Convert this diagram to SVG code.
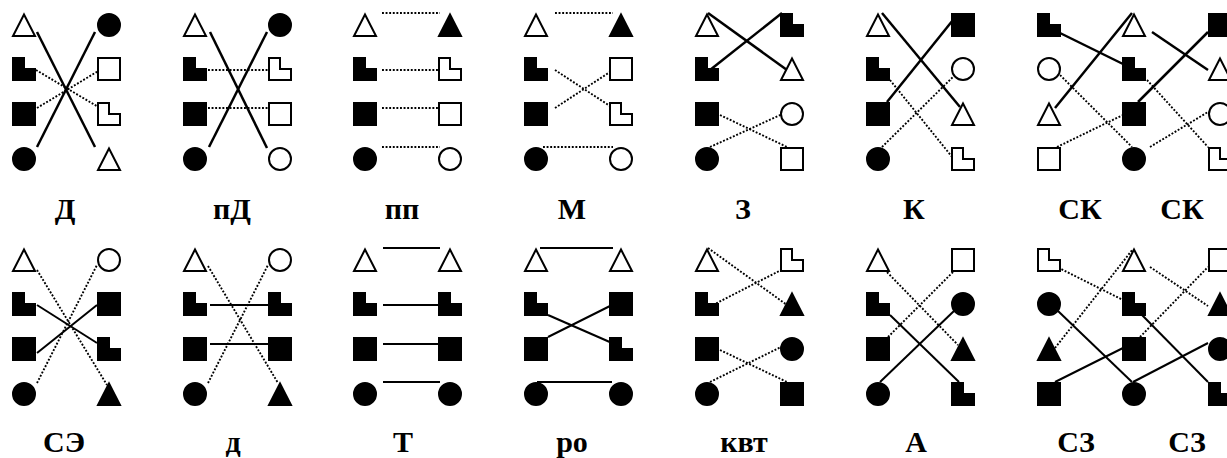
<svg xmlns="http://www.w3.org/2000/svg" xmlns:xlink="http://www.w3.org/1999/xlink" width="1227" height="458" viewBox="0 0 1227 458">
<style>
.w{fill:#fff;stroke:#000;stroke-width:2}
.b{fill:#000;stroke:#000;stroke-width:2}
.s{stroke:#000;stroke-width:2.5;fill:none}
.s2{stroke:#000;stroke-width:2;fill:none}
.d{stroke:#000;stroke-width:1.9;stroke-dasharray:1.9 1.7;fill:none}
.lb{font-family:"Liberation Serif","Times New Roman",serif;font-weight:bold;font-size:30px;text-anchor:middle;fill:#000}
</style>
<defs>
<polygon id="T" points="12,1.5 23,23 1,23"/>
<rect id="Q" x="1" y="1" width="22" height="22"/>
<path id="L" d="M1,1H12V12H23V23H1Z"/>
<circle id="C" cx="12" cy="12" r="11"/>
</defs>
<rect width="1227" height="458" fill="#fff"/>
<g id="connectors">
<line class="s" x1="37" y1="32" x2="95" y2="147"/>
<line class="s" x1="37" y1="147" x2="95" y2="32"/>
<line class="d" x1="36" y1="70" x2="100" y2="108"/>
<line class="d" x1="37" y1="108" x2="100" y2="70"/>
<line class="s" x1="210" y1="32" x2="267" y2="148"/>
<line class="s" x1="209" y1="147" x2="267" y2="32"/>
<line class="d" x1="208" y1="70" x2="268" y2="70"/>
<line class="d" x1="208" y1="108" x2="268" y2="108"/>
<line class="d" x1="382" y1="13" x2="440" y2="13"/>
<line class="d" x1="382" y1="70" x2="440" y2="70"/>
<line class="d" x1="382" y1="108" x2="440" y2="108"/>
<line class="d" x1="382" y1="147" x2="440" y2="147"/>
<line class="d" x1="555" y1="13" x2="613" y2="13"/>
<line class="d" x1="555" y1="70" x2="613" y2="108"/>
<line class="d" x1="555" y1="108" x2="613" y2="70"/>
<line class="d" x1="543" y1="147" x2="613" y2="147"/>
<line class="s" x1="708" y1="13" x2="787" y2="70"/>
<line class="s" x1="782" y1="13" x2="710" y2="70"/>
<line class="d" x1="720" y1="115" x2="787" y2="147"/>
<line class="d" x1="710" y1="147" x2="787" y2="112"/>
<line class="s" x1="882" y1="13" x2="960" y2="107"/>
<line class="s" x1="887" y1="102" x2="953" y2="20"/>
<line class="d" x1="890" y1="80" x2="957" y2="163"/>
<line class="d" x1="882" y1="147" x2="960" y2="70"/>
<line class="s" x1="1060" y1="33" x2="1125" y2="65"/>
<line class="s" x1="1055" y1="108" x2="1132" y2="13"/>
<line class="s" x1="1152" y1="32" x2="1208" y2="70"/>
<line class="s" x1="1138" y1="102" x2="1208" y2="32"/>
<line class="d" x1="1055" y1="70" x2="1132" y2="147"/>
<line class="d" x1="1057" y1="147" x2="1123" y2="115"/>
<line class="d" x1="1147" y1="80" x2="1208" y2="147"/>
<line class="d" x1="1150" y1="147" x2="1208" y2="112"/>
<line class="d" x1="37" y1="270" x2="107" y2="385"/>
<line class="d" x1="37" y1="383" x2="97" y2="265"/>
<line class="s2" x1="37" y1="305" x2="97" y2="343"/>
<line class="s2" x1="37" y1="353" x2="97" y2="305"/>
<line class="d" x1="208" y1="266" x2="278" y2="383"/>
<line class="d" x1="208" y1="383" x2="268" y2="265"/>
<line class="s2" x1="210" y1="305" x2="268" y2="305"/>
<line class="s2" x1="210" y1="344" x2="268" y2="344"/>
<line class="s2" x1="383" y1="248" x2="440" y2="248"/>
<line class="s2" x1="383" y1="305" x2="440" y2="305"/>
<line class="s2" x1="383" y1="344" x2="440" y2="344"/>
<line class="s2" x1="383" y1="382" x2="440" y2="382"/>
<line class="s2" x1="540" y1="248" x2="613" y2="248"/>
<line class="s2" x1="548" y1="315" x2="612" y2="343"/>
<line class="s2" x1="548" y1="337" x2="612" y2="305"/>
<line class="s2" x1="537" y1="382" x2="612" y2="382"/>
<line class="d" x1="708" y1="248" x2="787" y2="305"/>
<line class="d" x1="713" y1="305" x2="787" y2="267"/>
<line class="d" x1="720" y1="350" x2="787" y2="382"/>
<line class="d" x1="710" y1="382" x2="783" y2="346"/>
<line class="d" x1="882" y1="267" x2="958" y2="345"/>
<line class="d" x1="888" y1="337" x2="958" y2="267"/>
<line class="s2" x1="890" y1="315" x2="959" y2="382"/>
<line class="s2" x1="880" y1="382" x2="955" y2="310"/>
<line class="d" x1="1055" y1="266" x2="1123" y2="300"/>
<line class="d" x1="1055" y1="348" x2="1133" y2="249"/>
<line class="d" x1="1150" y1="267" x2="1208" y2="306"/>
<line class="d" x1="1140" y1="337" x2="1208" y2="267"/>
<line class="s2" x1="1058" y1="311" x2="1132" y2="382"/>
<line class="s2" x1="1055" y1="382" x2="1123" y2="348"/>
<line class="s2" x1="1142" y1="315" x2="1208" y2="382"/>
<line class="s2" x1="1133" y1="382" x2="1208" y2="343"/>
</g>
<g id="D">
<g id="D-l1"><use href="#T" class="w" x="12" y="13"/></g>
<g id="D-l2"><use href="#L" class="b" x="12" y="57"/></g>
<g id="D-l3"><use href="#Q" class="b" x="12" y="102"/></g>
<g id="D-l4"><use href="#C" class="b" x="12" y="147"/></g>
<g id="D-r1"><use href="#C" class="b" x="97" y="13"/></g>
<g id="D-r2"><use href="#Q" class="w" x="97" y="57"/></g>
<g id="D-r3"><use href="#L" class="w" x="97" y="102"/></g>
<g id="D-r4"><use href="#T" class="w" x="97" y="147"/></g>
</g>
<g id="pD">
<g id="pD-l1"><use href="#T" class="w" x="183" y="13"/></g>
<g id="pD-l2"><use href="#L" class="b" x="183" y="57"/></g>
<g id="pD-l3"><use href="#Q" class="b" x="183" y="102"/></g>
<g id="pD-l4"><use href="#C" class="b" x="183" y="147"/></g>
<g id="pD-r1"><use href="#C" class="b" x="268" y="13"/></g>
<g id="pD-r2"><use href="#L" class="w" x="268" y="57"/></g>
<g id="pD-r3"><use href="#Q" class="w" x="268" y="102"/></g>
<g id="pD-r4"><use href="#C" class="w" x="268" y="147"/></g>
</g>
<g id="pp">
<g id="pp-l1"><use href="#T" class="w" x="353" y="13"/></g>
<g id="pp-l2"><use href="#L" class="b" x="353" y="57"/></g>
<g id="pp-l3"><use href="#Q" class="b" x="353" y="102"/></g>
<g id="pp-l4"><use href="#C" class="b" x="353" y="147"/></g>
<g id="pp-r1"><use href="#T" class="b" x="438" y="13"/></g>
<g id="pp-r2"><use href="#L" class="w" x="438" y="57"/></g>
<g id="pp-r3"><use href="#Q" class="w" x="438" y="102"/></g>
<g id="pp-r4"><use href="#C" class="w" x="438" y="147"/></g>
</g>
<g id="M">
<g id="M-l1"><use href="#T" class="w" x="524" y="13"/></g>
<g id="M-l2"><use href="#L" class="b" x="524" y="57"/></g>
<g id="M-l3"><use href="#Q" class="b" x="524" y="102"/></g>
<g id="M-l4"><use href="#C" class="b" x="524" y="147"/></g>
<g id="M-r1"><use href="#T" class="b" x="609" y="13"/></g>
<g id="M-r2"><use href="#Q" class="w" x="609" y="57"/></g>
<g id="M-r3"><use href="#L" class="w" x="609" y="102"/></g>
<g id="M-r4"><use href="#C" class="w" x="609" y="147"/></g>
</g>
<g id="Z">
<g id="Z-l1"><use href="#T" class="w" x="695" y="13"/></g>
<g id="Z-l2"><use href="#L" class="b" x="695" y="57"/></g>
<g id="Z-l3"><use href="#Q" class="b" x="695" y="102"/></g>
<g id="Z-l4"><use href="#C" class="b" x="695" y="147"/></g>
<g id="Z-r1"><use href="#L" class="b" x="780" y="13"/></g>
<g id="Z-r2"><use href="#T" class="w" x="780" y="57"/></g>
<g id="Z-r3"><use href="#C" class="w" x="780" y="102"/></g>
<g id="Z-r4"><use href="#Q" class="w" x="780" y="147"/></g>
</g>
<g id="K">
<g id="K-l1"><use href="#T" class="w" x="866" y="13"/></g>
<g id="K-l2"><use href="#L" class="b" x="866" y="57"/></g>
<g id="K-l3"><use href="#Q" class="b" x="866" y="102"/></g>
<g id="K-l4"><use href="#C" class="b" x="866" y="147"/></g>
<g id="K-r1"><use href="#Q" class="b" x="951" y="13"/></g>
<g id="K-r2"><use href="#C" class="w" x="951" y="57"/></g>
<g id="K-r3"><use href="#T" class="w" x="951" y="102"/></g>
<g id="K-r4"><use href="#L" class="w" x="951" y="147"/></g>
</g>
<g id="SK">
<g id="SK-a1"><use href="#L" class="b" x="1037" y="13"/></g>
<g id="SK-a2"><use href="#C" class="w" x="1037" y="57"/></g>
<g id="SK-a3"><use href="#T" class="w" x="1037" y="102"/></g>
<g id="SK-a4"><use href="#Q" class="w" x="1037" y="147"/></g>
<g id="SK-b1"><use href="#T" class="w" x="1122" y="13"/></g>
<g id="SK-b2"><use href="#L" class="b" x="1122" y="57"/></g>
<g id="SK-b3"><use href="#Q" class="b" x="1122" y="102"/></g>
<g id="SK-b4"><use href="#C" class="b" x="1122" y="147"/></g>
<g id="SK-c1"><use href="#Q" class="b" x="1208" y="13"/></g>
<g id="SK-c2"><use href="#T" class="w" x="1208" y="57"/></g>
<g id="SK-c3"><use href="#C" class="w" x="1208" y="102"/></g>
<g id="SK-c4"><use href="#L" class="w" x="1208" y="147"/></g>
</g>
<g id="SE">
<g id="SE-l1"><use href="#T" class="w" x="12" y="248"/></g>
<g id="SE-l2"><use href="#L" class="b" x="12" y="292"/></g>
<g id="SE-l3"><use href="#Q" class="b" x="12" y="337"/></g>
<g id="SE-l4"><use href="#C" class="b" x="12" y="382"/></g>
<g id="SE-r1"><use href="#C" class="w" x="97" y="248"/></g>
<g id="SE-r2"><use href="#Q" class="b" x="97" y="292"/></g>
<g id="SE-r3"><use href="#L" class="b" x="97" y="337"/></g>
<g id="SE-r4"><use href="#T" class="b" x="97" y="382"/></g>
</g>
<g id="d">
<g id="d-l1"><use href="#T" class="w" x="183" y="248"/></g>
<g id="d-l2"><use href="#L" class="b" x="183" y="292"/></g>
<g id="d-l3"><use href="#Q" class="b" x="183" y="337"/></g>
<g id="d-l4"><use href="#C" class="b" x="183" y="382"/></g>
<g id="d-r1"><use href="#C" class="w" x="268" y="248"/></g>
<g id="d-r2"><use href="#L" class="b" x="268" y="292"/></g>
<g id="d-r3"><use href="#Q" class="b" x="268" y="337"/></g>
<g id="d-r4"><use href="#T" class="b" x="268" y="382"/></g>
</g>
<g id="Tt">
<g id="Tt-l1"><use href="#T" class="w" x="353" y="248"/></g>
<g id="Tt-l2"><use href="#L" class="b" x="353" y="292"/></g>
<g id="Tt-l3"><use href="#Q" class="b" x="353" y="337"/></g>
<g id="Tt-l4"><use href="#C" class="b" x="353" y="382"/></g>
<g id="Tt-r1"><use href="#T" class="w" x="438" y="248"/></g>
<g id="Tt-r2"><use href="#L" class="b" x="438" y="292"/></g>
<g id="Tt-r3"><use href="#Q" class="b" x="438" y="337"/></g>
<g id="Tt-r4"><use href="#C" class="b" x="438" y="382"/></g>
</g>
<g id="ro">
<g id="ro-l1"><use href="#T" class="w" x="524" y="248"/></g>
<g id="ro-l2"><use href="#L" class="b" x="524" y="292"/></g>
<g id="ro-l3"><use href="#Q" class="b" x="524" y="337"/></g>
<g id="ro-l4"><use href="#C" class="b" x="524" y="382"/></g>
<g id="ro-r1"><use href="#T" class="w" x="609" y="248"/></g>
<g id="ro-r2"><use href="#Q" class="b" x="609" y="292"/></g>
<g id="ro-r3"><use href="#L" class="b" x="609" y="337"/></g>
<g id="ro-r4"><use href="#C" class="b" x="609" y="382"/></g>
</g>
<g id="kvt">
<g id="kvt-l1"><use href="#T" class="w" x="695" y="248"/></g>
<g id="kvt-l2"><use href="#L" class="b" x="695" y="292"/></g>
<g id="kvt-l3"><use href="#Q" class="b" x="695" y="337"/></g>
<g id="kvt-l4"><use href="#C" class="b" x="695" y="382"/></g>
<g id="kvt-r1"><use href="#L" class="w" x="780" y="248"/></g>
<g id="kvt-r2"><use href="#T" class="b" x="780" y="292"/></g>
<g id="kvt-r3"><use href="#C" class="b" x="780" y="337"/></g>
<g id="kvt-r4"><use href="#Q" class="b" x="780" y="382"/></g>
</g>
<g id="A">
<g id="A-l1"><use href="#T" class="w" x="866" y="248"/></g>
<g id="A-l2"><use href="#L" class="b" x="866" y="292"/></g>
<g id="A-l3"><use href="#Q" class="b" x="866" y="337"/></g>
<g id="A-l4"><use href="#C" class="b" x="866" y="382"/></g>
<g id="A-r1"><use href="#Q" class="w" x="951" y="248"/></g>
<g id="A-r2"><use href="#C" class="b" x="951" y="292"/></g>
<g id="A-r3"><use href="#T" class="b" x="951" y="337"/></g>
<g id="A-r4"><use href="#L" class="b" x="951" y="382"/></g>
</g>
<g id="SZ">
<g id="SZ-a1"><use href="#L" class="w" x="1037" y="248"/></g>
<g id="SZ-a2"><use href="#C" class="b" x="1037" y="292"/></g>
<g id="SZ-a3"><use href="#T" class="b" x="1037" y="337"/></g>
<g id="SZ-a4"><use href="#Q" class="b" x="1037" y="382"/></g>
<g id="SZ-b1"><use href="#T" class="w" x="1122" y="248"/></g>
<g id="SZ-b2"><use href="#L" class="b" x="1122" y="292"/></g>
<g id="SZ-b3"><use href="#Q" class="b" x="1122" y="337"/></g>
<g id="SZ-b4"><use href="#C" class="b" x="1122" y="382"/></g>
<g id="SZ-c1"><use href="#Q" class="w" x="1208" y="248"/></g>
<g id="SZ-c2"><use href="#T" class="b" x="1208" y="292"/></g>
<g id="SZ-c3"><use href="#C" class="b" x="1208" y="337"/></g>
<g id="SZ-c4"><use href="#L" class="b" x="1208" y="382"/></g>
</g>
<g id="labels">
<text class="lb" x="65" y="219">Д</text>
<text class="lb" x="232" y="219">пД</text>
<text class="lb" x="402" y="219">пп</text>
<text class="lb" x="572" y="219">М</text>
<text class="lb" x="743" y="219">З</text>
<text class="lb" x="914" y="219">К</text>
<text class="lb" x="1080" y="219">СК</text>
<text class="lb" x="1182" y="219">СК</text>
<text class="lb" x="64" y="452">СЭ</text>
<text class="lb" x="233" y="452">д</text>
<text class="lb" x="403" y="452">Т</text>
<text class="lb" x="572" y="452">ро</text>
<text class="lb" x="744" y="452">квт</text>
<text class="lb" x="916" y="452">А</text>
<text class="lb" x="1076" y="452">СЗ</text>
<text class="lb" x="1187" y="452">СЗ</text>
</g>
</svg>
